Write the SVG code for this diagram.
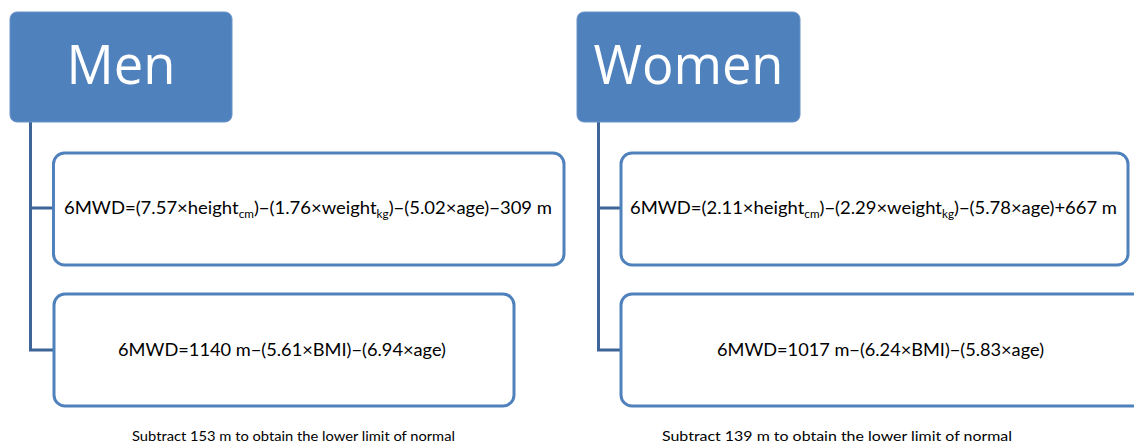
<svg xmlns="http://www.w3.org/2000/svg" width="1134" height="446" viewBox="0 0 1134 446">
<style>
.hdr{fill:#4F81BD;stroke:#6A93C8;stroke-width:1}
.box{fill:#FFFFFF;stroke:#4F81BD;stroke-width:3}
.conn{fill:none;stroke:#3F6598;stroke-width:3}
.ht{font-family:"Open Sans","Noto Sans",sans-serif;font-size:54px;fill:#FFFFFF;text-anchor:middle}
.ft{font-family:Lato,"Open Sans",sans-serif;font-size:16.5px;fill:#000000}
.sub{font-size:10.5px}
.nt{font-family:Lato,"Open Sans",sans-serif;font-size:14px;fill:#000000}
</style>
<rect width="1134" height="446" fill="#FFFFFF"/>
<g id="connectors">
<path class="conn" d="M30.5,122 V350 H54 M30.5,208 H53"/>
<path class="conn" d="M598.5,122 V350 H621 M598.5,208 H621"/>
</g>
<g id="men">
<rect class="hdr" x="10" y="12" width="222" height="110" rx="7"/>
<text class="ht" x="121" y="84" textLength="109" lengthAdjust="spacingAndGlyphs">Men</text>
</g>
<g id="men-formula1">
<rect class="box" x="53.5" y="153" width="510.5" height="112" rx="11"/>
<text class="ft" x="64" y="214" textLength="488" lengthAdjust="spacingAndGlyphs">6MWD=(7.57×height<tspan class="sub" dy="4">cm</tspan><tspan dy="-4">)−(1.76×weight</tspan><tspan class="sub" dy="4">kg</tspan><tspan dy="-4">)−(5.02×age)−309 m</tspan></text>
</g>
<g id="men-formula2">
<rect class="box" x="54" y="294" width="460" height="112" rx="11"/>
<text class="ft" x="118" y="356" textLength="328" lengthAdjust="spacingAndGlyphs">6MWD=1140 m−(5.61×BMI)−(6.94×age)</text>
</g>
<g id="men-note">
<text class="nt" x="132" y="441" textLength="323" lengthAdjust="spacingAndGlyphs">Subtract 153 m to obtain the lower limit of normal</text>
</g>
<g id="women">
<rect class="hdr" x="577" y="12" width="223" height="110" rx="7"/>
<text class="ht" x="688.5" y="84" textLength="190" lengthAdjust="spacingAndGlyphs">Women</text>
</g>
<g id="women-formula1">
<rect class="box" x="621" y="153" width="507" height="112" rx="11"/>
<text class="ft" x="630" y="214" textLength="487" lengthAdjust="spacingAndGlyphs">6MWD=(2.11×height<tspan class="sub" dy="4">cm</tspan><tspan dy="-4">)−(2.29×weight</tspan><tspan class="sub" dy="4">kg</tspan><tspan dy="-4">)−(5.78×age)+667 m</tspan></text>
</g>
<g id="women-formula2">
<rect class="box" x="621" y="294" width="530" height="112" rx="11"/>
<text class="ft" x="717" y="356" textLength="327" lengthAdjust="spacingAndGlyphs">6MWD=1017 m−(6.24×BMI)−(5.83×age)</text>
</g>
<g id="women-note">
<text class="nt" x="662" y="441" textLength="350" lengthAdjust="spacingAndGlyphs">Subtract 139 m to obtain the lower limit of normal</text>
</g>
</svg>
